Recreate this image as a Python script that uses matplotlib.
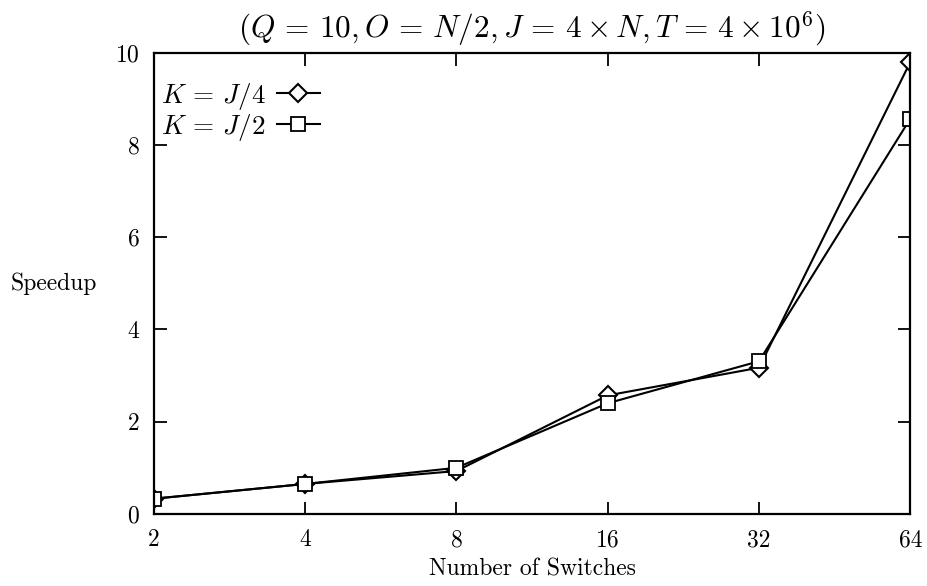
import matplotlib.pyplot as plt

plt.rcParams["mathtext.fontset"] = "cm"
plt.rcParams["font.family"] = "serif"
plt.rcParams["font.serif"] = ["cmr10", "DejaVu Serif"]
plt.rcParams["axes.formatter.use_mathtext"] = True

# Número de switches y speedup medido
switches = ["2", "4", "8", "16", "32", "64"]
speedup_j4 = [0.33, 0.65, 0.93, 2.57, 3.17, 9.80]
speedup_j2 = [0.33, 0.65, 1.00, 2.40, 3.31, 8.57]

pos = list(range(len(switches)))

fig = plt.figure(figsize=(9.27, 5.86), dpi=100)
ax = fig.add_axes([0.166, 0.123, 0.816, 0.787])

ax.plot(pos, speedup_j4, color="black", lw=1.5, marker="D", ms=9,
        mfc="white", mec="black", mew=1.5, label=r"$K\,=\,J/4$")
ax.plot(pos, speedup_j2, color="black", lw=1.5, marker="s", ms=10,
        mfc="white", mec="black", mew=1.3, label=r"$K\,=\,J/2$")

ax.set_xlim(0, len(switches) - 1)
ax.set_ylim(0, 10)
ax.set_xticks(pos)
ax.set_xticklabels(switches)
ax.set_yticks([0, 2, 4, 6, 8, 10])

ax.tick_params(direction="in", length=9, width=1.3, top=True, right=True,
               labelsize=17)
ax.tick_params(axis="x", pad=11)
ax.tick_params(axis="y", pad=10)
for s in ax.spines.values():
    s.set_linewidth(1.6)

ax.set_title(r"$(Q\,=\,10, O\,=\,N/2, J\,=\,4 \times N, T\,=\,4 \times 10^6)$",
             fontsize=22.5, pad=11)
ax.set_xlabel("Number of Switches", fontsize=17, labelpad=5)
ax.set_ylabel("Speedup", fontsize=17, rotation=0, labelpad=44, va="center")

ax.legend(loc="upper left", frameon=False, markerfirst=False, fontsize=19.5,
          handlelength=1.6, borderaxespad=0.0, labelspacing=0.0,
          handletextpad=0.4, borderpad=0.6, bbox_to_anchor=(-0.012, 0.975))

fig.savefig("out.png", dpi=100)
